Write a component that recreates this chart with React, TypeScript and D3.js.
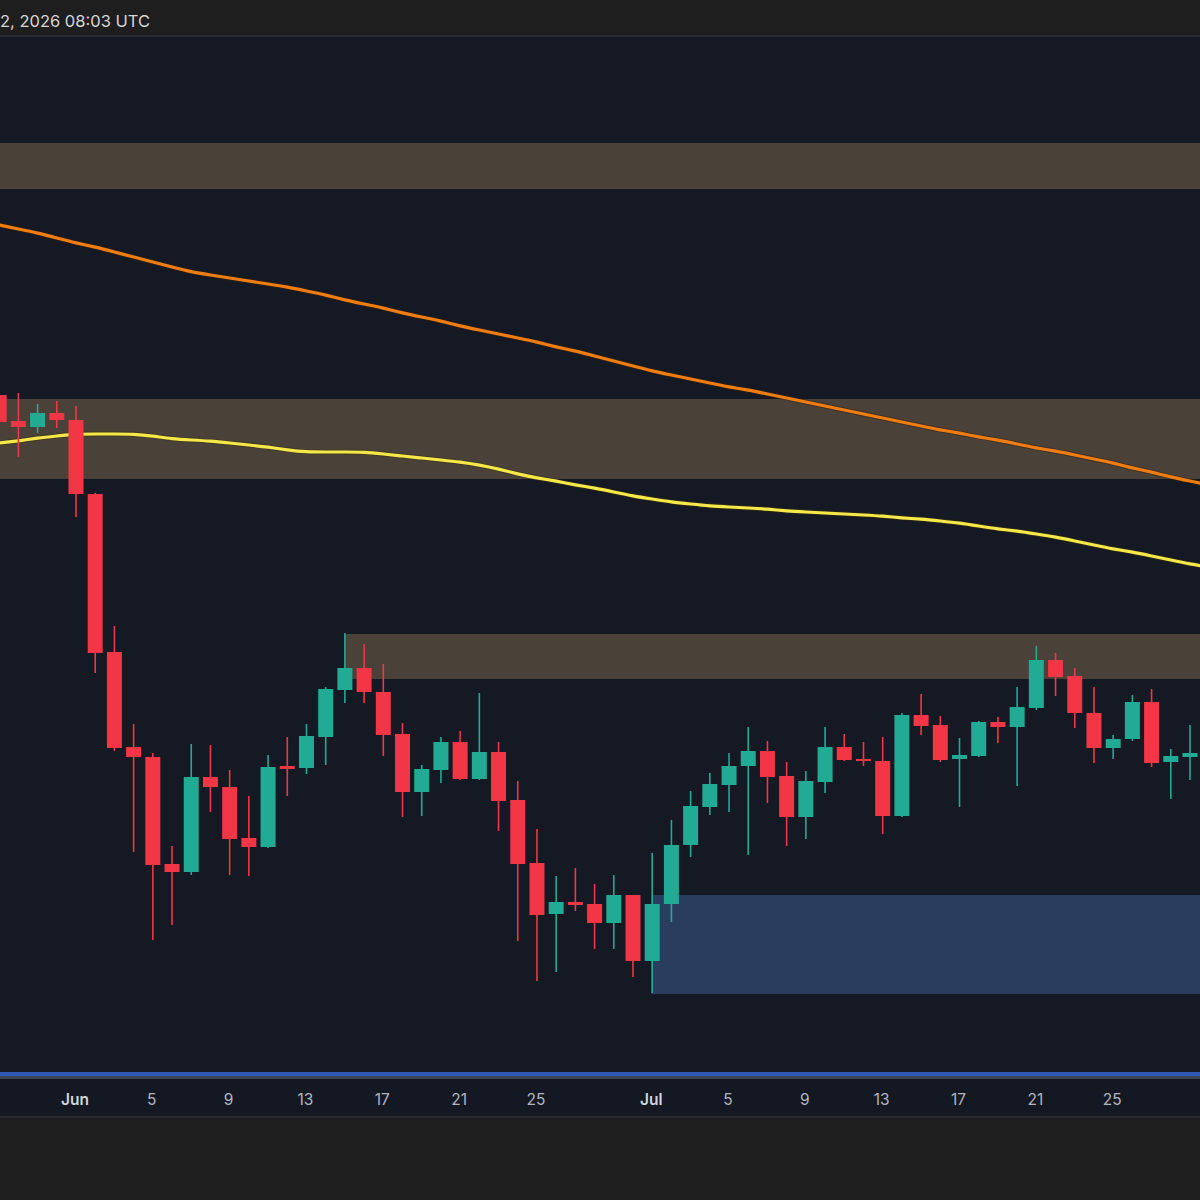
import React, { useEffect } from "react";
import * as d3 from "d3";

// ---- Data ----
const firstCandleDate = "2026-05-28";
// OHLC prices, one per day starting at firstCandleDate
const opens = [160.5, 157.9, 157.3, 158.7, 158.0, 150.6, 134.8, 125.3, 124.3, 113.6, 112.8, 122.3, 121.3, 116.2, 115.3, 123.4, 123.2, 126.3, 131.0, 133.2, 130.8, 126.6, 120.8, 123.0, 125.8, 122.1, 124.8, 120.0, 113.7, 108.6, 109.8, 109.6, 107.7, 110.5, 103.9, 109.6, 115.5, 119.3, 121.5, 123.4, 124.9, 122.4, 118.3, 121.8, 125.3, 124.1, 123.9, 118.4, 128.5, 127.5, 124.1, 124.4, 127.8, 127.3, 129.2, 134.0, 132.4, 128.7, 125.2, 126.1, 129.8, 123.8, 124.3];
const highs = [160.7, 160.7, 159.6, 159.9, 159.4, 150.7, 137.4, 127.6, 124.7, 115.4, 125.6, 125.5, 123.0, 120.4, 124.5, 126.3, 127.6, 131.3, 136.7, 135.6, 133.6, 127.7, 123.5, 126.3, 126.9, 130.7, 125.8, 121.9, 117.1, 112.4, 113.2, 111.6, 112.5, 110.5, 114.7, 118.0, 120.9, 122.7, 124.7, 127.3, 125.9, 123.8, 122.9, 127.3, 126.6, 125.8, 126.3, 128.7, 130.6, 128.4, 126.2, 127.9, 128.3, 131.3, 135.4, 134.7, 133.2, 131.3, 126.5, 130.5, 131.1, 125.1, 127.5];
const lows = [157.6, 154.3, 156.7, 157.2, 148.3, 132.7, 124.9, 114.8, 106.0, 107.5, 112.5, 118.8, 112.5, 112.4, 115.2, 120.4, 122.6, 123.5, 129.7, 129.7, 124.4, 118.3, 118.4, 121.7, 122.0, 122.0, 116.9, 105.9, 101.9, 102.8, 108.9, 105.1, 105.1, 102.3, 100.7, 107.8, 114.3, 118.5, 118.8, 114.5, 119.7, 115.4, 116.1, 120.7, 123.9, 123.4, 116.6, 118.3, 126.5, 123.8, 119.3, 124.3, 125.7, 121.4, 129.0, 130.4, 127.2, 123.7, 124.1, 125.9, 123.3, 120.1, 122.0];
const closes = [157.8, 157.3, 158.7, 158.0, 150.6, 134.7, 125.2, 124.3, 113.5, 112.8, 122.3, 121.3, 116.1, 115.3, 123.3, 123.1, 126.4, 131.1, 133.2, 130.8, 126.5, 120.8, 123.1, 125.8, 122.1, 124.8, 119.9, 113.6, 108.5, 109.8, 109.5, 107.7, 110.5, 103.9, 109.6, 115.5, 119.4, 121.6, 123.4, 124.9, 122.3, 118.3, 121.9, 125.3, 124.0, 123.9, 118.4, 128.5, 127.4, 124.0, 124.5, 127.8, 127.3, 129.3, 134.0, 132.3, 128.7, 125.2, 126.1, 129.8, 123.7, 124.4, 124.7];

// Moving averages, one per day starting at firstCandleDate
const slowMA = [177.5, 177.1, 176.7, 176.2, 175.7, 175.3, 174.8, 174.3, 173.8, 173.3, 172.8, 172.5, 172.2, 171.9, 171.6, 171.3, 170.9, 170.5, 170.0, 169.6, 169.2, 168.7, 168.3, 167.9, 167.4, 167.0, 166.6, 166.2, 165.8, 165.3, 164.9, 164.4, 163.9, 163.4, 162.9, 162.5, 162.1, 161.7, 161.3, 161.0, 160.6, 160.2, 159.8, 159.4, 159.0, 158.6, 158.2, 157.8, 157.4, 157.0, 156.7, 156.3, 156.0, 155.6, 155.2, 154.9, 154.5, 154.1, 153.7, 153.2, 152.8, 152.3, 151.9, 151.5];
const fastMA = [155.7, 155.9, 156.2, 156.4, 156.6, 156.6, 156.6, 156.6, 156.4, 156.1, 156.0, 155.9, 155.7, 155.5, 155.3, 155.0, 154.8, 154.8, 154.8, 154.8, 154.6, 154.4, 154.2, 154.0, 153.8, 153.5, 153.1, 152.6, 152.2, 151.9, 151.5, 151.2, 150.8, 150.4, 150.1, 149.8, 149.6, 149.4, 149.3, 149.2, 149.1, 148.9, 148.8, 148.7, 148.6, 148.5, 148.4, 148.2, 148.1, 147.9, 147.7, 147.4, 147.1, 146.9, 146.6, 146.3, 145.9, 145.5, 145.1, 144.8, 144.4, 144.0, 143.6, 143.3];

// Supply / demand zones: [top, bottom, start date]
const zoneTops = [185.7, 160.1, 136.6];
const zoneBottoms = [181.1, 152.1, 132.1];
const zoneStarts = ["2026-05-20", "2026-05-20", "2026-06-15"];
const demandZone = { top: 110.5, bottom: 100.6, start: "2026-07-01" };

// X axis tick labels
const tickDates = ["2026-06-01", "2026-06-05", "2026-06-09", "2026-06-13", "2026-06-17", "2026-06-21", "2026-06-25", "2026-07-01", "2026-07-05", "2026-07-09", "2026-07-13", "2026-07-17", "2026-07-21", "2026-07-25"];
const tickLabels = ["Jun", "5", "9", "13", "17", "21", "25", "Jul", "5", "9", "13", "17", "21", "25"];
const headerText = "2, 2026 08:03 UTC";

const W = 1200;
const H = 1200;
const parse = d3.utcParse("%Y-%m-%d");

export default function App() {
  useEffect(() => {
    document.body.style.margin = "0";
  }, []);

  const chartTop = 37;
  const chartBottom = 1072;
  const x = d3
    .scaleUtc()
    .domain([parse("2026-06-01")!, parse("2026-07-29")!])
    .range([76, 1190]);
  const y = d3.scaleLinear().domain([80, 200]).range([1200, 0]);
  const start = parse(firstCandleDate)!;
  const dates = opens.map((_, i) => d3.utcDay.offset(start, i));
  const maDates = slowMA.map((_, i) => d3.utcDay.offset(start, i));
  const bw = 15;

  const line = d3
    .line<number>()
    .x((_, i) => x(maDates[i]))
    .y((v) => y(v))
    .curve(d3.curveBasis);

  const up = "#22ab94";
  const down = "#f23645";

  return (
    <svg width={W} height={H} style={{ display: "block", background: "#151924" }} fontFamily="Inter, Roboto, 'Noto Sans', sans-serif">
      <defs>
        <clipPath id="plot">
          <rect x={0} y={chartTop} width={W} height={chartBottom - chartTop} />
        </clipPath>
      </defs>
      {/* header */}
      <rect x={0} y={0} width={W} height={35} fill="#1e1e1f" />
      <rect x={0} y={35} width={W} height={2} fill="#2a2a2e" />
      <text x={0} y={27} fill="#d6d6d6" fontSize={16.5}>
        {headerText}
      </text>
      {/* plot background */}
      <rect x={0} y={chartTop} width={W} height={1079 - chartTop} fill="#151924" />
      <g clipPath="url(#plot)">
        {zoneTops.map((t, i) => (
          <rect
            key={"z" + i}
            x={Math.max(-10, x(parse(zoneStarts[i])!))}
            y={y(t)}
            width={W + 20}
            height={y(zoneBottoms[i]) - y(t)}
            fill="#4a4139"
          />
        ))}
        <rect
          x={x(parse(demandZone.start)!) - 1}
          y={y(demandZone.top)}
          width={W}
          height={y(demandZone.bottom) - y(demandZone.top)}
          fill="#2b3d5f"
        />
        <path d={line(slowMA) || ""} fill="none" stroke="#3a2410" strokeWidth={5} strokeOpacity={0.5} />
        <path d={line(slowMA) || ""} fill="none" stroke="#ef7d12" strokeWidth={3.2} />
        <path d={line(fastMA) || ""} fill="none" stroke="#3a3410" strokeWidth={5} strokeOpacity={0.5} />
        <path d={line(fastMA) || ""} fill="none" stroke="#f7e84a" strokeWidth={3.2} />
        {dates.map((dt, i) => {
          const o = opens[i];
          const c = closes[i];
          const col = c >= o ? up : down;
          const cx = x(dt);
          const top = y(Math.max(o, c));
          const bot = y(Math.min(o, c));
          return (
            <g key={"c" + i}>
              <line x1={cx} x2={cx} y1={y(highs[i])} y2={y(lows[i])} stroke={col} strokeWidth={1.6} />
              <rect x={cx - bw / 2} y={top} width={bw} height={Math.max(2, bot - top)} fill={col} />
            </g>
          );
        })}
      </g>
      {/* bottom border lines */}
      <rect x={0} y={1072} width={W} height={4} fill="#2e5ab5" />
      <rect x={0} y={1076} width={W} height={3} fill="#3a4658" />
      {/* axis area */}
      <rect x={0} y={1079} width={W} height={37} fill="#141822" />
      {tickDates.map((t, i) => {
        const isMonth = i === 0 || tickLabels[i] === "Jul";
        return (
          <text
            key={"t" + i}
            x={x(parse(t)!) - 1}
            y={1105}
            textAnchor="middle"
            fontSize={15.5}
            fontWeight={isMonth ? 600 : 400}
            fill={isMonth ? "#d1d4dc" : "#b2b5be"}
          >
            {tickLabels[i]}
          </text>
        );
      })}
      <rect x={0} y={1116} width={W} height={2} fill="#2a2a2e" />
      <rect x={0} y={1118} width={W} height={82} fill="#1f1f1f" />
    </svg>
  );
}
